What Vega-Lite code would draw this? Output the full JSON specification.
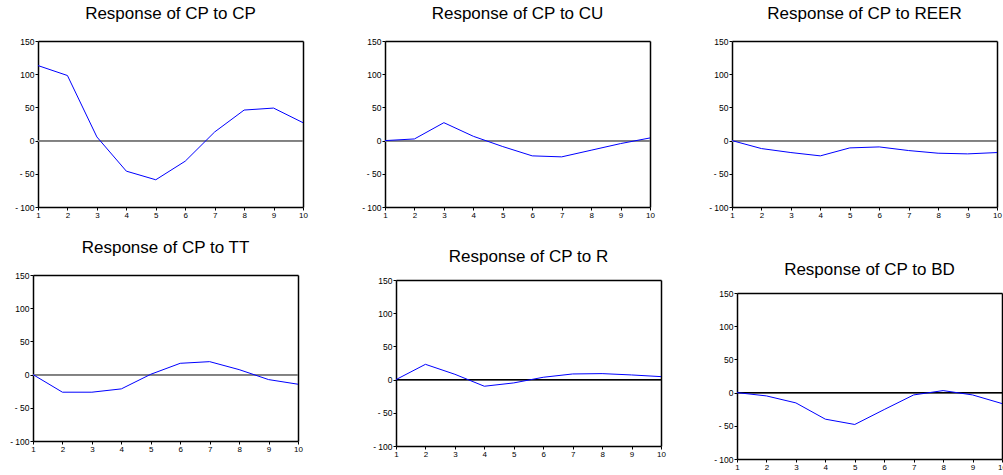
{
  "$schema": "https://vega.github.io/schema/vega-lite/v6.json",
  "background": "white",
  "padding": {"left": 9, "top": 5, "right": 0, "bottom": 0},
  "bounds": "flush",
  "columns": 3,
  "spacing": {"row": 50, "column": 69},
  "datasets": {
    "irf": [
      {"shock": "CP", "step": 1, "value": 113}, {"shock": "CP", "step": 2, "value": 98}, {"shock": "CP", "step": 3, "value": 5.5}, {"shock": "CP", "step": 4, "value": -46}, {"shock": "CP", "step": 5, "value": -59}, {"shock": "CP", "step": 6, "value": -31}, {"shock": "CP", "step": 7, "value": 13}, {"shock": "CP", "step": 8, "value": 46}, {"shock": "CP", "step": 9, "value": 49}, {"shock": "CP", "step": 10, "value": 27},
      {"shock": "CU", "step": 1, "value": 0}, {"shock": "CU", "step": 2, "value": 2.5}, {"shock": "CU", "step": 3, "value": 27}, {"shock": "CU", "step": 4, "value": 6.5}, {"shock": "CU", "step": 5, "value": -9}, {"shock": "CU", "step": 6, "value": -23}, {"shock": "CU", "step": 7, "value": -24.5}, {"shock": "CU", "step": 8, "value": -14.5}, {"shock": "CU", "step": 9, "value": -4.5}, {"shock": "CU", "step": 10, "value": 4},
      {"shock": "REER", "step": 1, "value": 0}, {"shock": "REER", "step": 2, "value": -12}, {"shock": "REER", "step": 3, "value": -18}, {"shock": "REER", "step": 4, "value": -23}, {"shock": "REER", "step": 5, "value": -11}, {"shock": "REER", "step": 6, "value": -9.5}, {"shock": "REER", "step": 7, "value": -15}, {"shock": "REER", "step": 8, "value": -19}, {"shock": "REER", "step": 9, "value": -20}, {"shock": "REER", "step": 10, "value": -18},
      {"shock": "TT", "step": 1, "value": 0}, {"shock": "TT", "step": 2, "value": -26.5}, {"shock": "TT", "step": 3, "value": -26.5}, {"shock": "TT", "step": 4, "value": -21.5}, {"shock": "TT", "step": 5, "value": 0.5}, {"shock": "TT", "step": 6, "value": 17}, {"shock": "TT", "step": 7, "value": 19.5}, {"shock": "TT", "step": 8, "value": 7.5}, {"shock": "TT", "step": 9, "value": -7.5}, {"shock": "TT", "step": 10, "value": -14.5},
      {"shock": "R", "step": 1, "value": 0}, {"shock": "R", "step": 2, "value": 23}, {"shock": "R", "step": 3, "value": 8}, {"shock": "R", "step": 4, "value": -10}, {"shock": "R", "step": 5, "value": -5}, {"shock": "R", "step": 6, "value": 3.5}, {"shock": "R", "step": 7, "value": 8.5}, {"shock": "R", "step": 8, "value": 9}, {"shock": "R", "step": 9, "value": 7}, {"shock": "R", "step": 10, "value": 4.5},
      {"shock": "BD", "step": 1, "value": 0}, {"shock": "BD", "step": 2, "value": -5}, {"shock": "BD", "step": 3, "value": -15.5}, {"shock": "BD", "step": 4, "value": -40}, {"shock": "BD", "step": 5, "value": -48}, {"shock": "BD", "step": 6, "value": -25.5}, {"shock": "BD", "step": 7, "value": -3.5}, {"shock": "BD", "step": 8, "value": 3}, {"shock": "BD", "step": 9, "value": -3.5}, {"shock": "BD", "step": 10, "value": -16.5}
    ]
  },
  "concat": [
    {
      "width": 280, "height": 184,
      "data": {"name": "irf"},
      "transform": [{"filter": "datum.shock === 'CP'"}],
      "title": {"text": "Response of CP to CP", "dx": -2.5, "dy": 0},
      "layer": [
        {"mark": {"type": "rule", "color": "#808080", "strokeWidth": 1.3},
         "encoding": {
           "x": {"datum": 1, "type": "quantitative", "scale": {"domain": [1, 10], "range": [5, 270], "nice": false, "zero": false}, "axis": {"orient": "top", "offset": 0, "labels": false, "ticks": false, "title": null, "grid": false}},
           "x2": {"datum": 10},
           "y": {"datum": 0, "type": "quantitative", "scale": {"domain": [-100, 150], "range": [166, 0], "nice": false, "zero": false}, "axis": {"orient": "right", "offset": -10, "labels": false, "ticks": false, "title": null, "grid": false}}
         }},
        {"mark": {"type": "line", "color": "#0000ff", "strokeWidth": 1},
         "encoding": {
           "x": {"field": "step", "type": "quantitative", "scale": {"domain": [1, 10], "range": [5, 270], "nice": false, "zero": false}, "axis": {"orient": "bottom", "offset": -18, "values": [1,2,3,4,5,6,7,8,9,10], "format": "d", "title": null, "grid": false, "tickSize": 3, "labelPadding": 1, "labelFontSize": 8, "labelFlush": false, "labelOverlap": false}},
           "y": {"field": "value", "type": "quantitative", "scale": {"domain": [-100, 150], "range": [166, 0], "nice": false, "zero": false}, "axis": {"orient": "left", "offset": -5, "values": [-100,-50,0,50,100,150], "labelExpr": "datum.value < 0 ? '- ' + (-datum.value) : datum.label", "title": null, "grid": false, "tickSize": 3, "labelPadding": 1, "labelFontSize": 8.5, "labelFlush": false, "labelOverlap": false}}
         }}
      ],
      "resolve": {"axis": {"x": "independent", "y": "independent"}}
    },
    {
      "width": 280, "height": 184,
      "data": {"name": "irf"},
      "transform": [{"filter": "datum.shock === 'CU'"}],
      "title": {"text": "Response of CP to CU", "dx": -4.5, "dy": 0},
      "layer": [
        {"mark": {"type": "rule", "color": "#808080", "strokeWidth": 1.3},
         "encoding": {
           "x": {"datum": 1, "type": "quantitative", "scale": {"domain": [1, 10], "range": [3, 268], "nice": false, "zero": false}, "axis": {"orient": "top", "offset": 0, "labels": false, "ticks": false, "title": null, "grid": false}},
           "x2": {"datum": 10},
           "y": {"datum": 0, "type": "quantitative", "scale": {"domain": [-100, 150], "range": [166, 0], "nice": false, "zero": false}, "axis": {"orient": "right", "offset": -12, "labels": false, "ticks": false, "title": null, "grid": false}}
         }},
        {"mark": {"type": "line", "color": "#0000ff", "strokeWidth": 1},
         "encoding": {
           "x": {"field": "step", "type": "quantitative", "scale": {"domain": [1, 10], "range": [3, 268], "nice": false, "zero": false}, "axis": {"orient": "bottom", "offset": -18, "values": [1,2,3,4,5,6,7,8,9,10], "format": "d", "title": null, "grid": false, "tickSize": 3, "labelPadding": 1, "labelFontSize": 8, "labelFlush": false, "labelOverlap": false}},
           "y": {"field": "value", "type": "quantitative", "scale": {"domain": [-100, 150], "range": [166, 0], "nice": false, "zero": false}, "axis": {"orient": "left", "offset": -3, "values": [-100,-50,0,50,100,150], "labelExpr": "datum.value < 0 ? '- ' + (-datum.value) : datum.label", "title": null, "grid": false, "tickSize": 3, "labelPadding": 1, "labelFontSize": 8.5, "labelFlush": false, "labelOverlap": false}}
         }}
      ],
      "resolve": {"axis": {"x": "independent", "y": "independent"}}
    },
    {
      "width": 280, "height": 184,
      "data": {"name": "irf"},
      "transform": [{"filter": "datum.shock === 'REER'"}],
      "title": {"text": "Response of CP to REER", "dx": -6.5, "dy": 0},
      "layer": [
        {"mark": {"type": "rule", "color": "#808080", "strokeWidth": 1.3},
         "encoding": {
           "x": {"datum": 1, "type": "quantitative", "scale": {"domain": [1, 10], "range": [1, 266], "nice": false, "zero": false}, "axis": {"orient": "top", "offset": 0, "labels": false, "ticks": false, "title": null, "grid": false}},
           "x2": {"datum": 10},
           "y": {"datum": 0, "type": "quantitative", "scale": {"domain": [-100, 150], "range": [166, 0], "nice": false, "zero": false}, "axis": {"orient": "right", "offset": -14, "labels": false, "ticks": false, "title": null, "grid": false}}
         }},
        {"mark": {"type": "line", "color": "#0000ff", "strokeWidth": 1},
         "encoding": {
           "x": {"field": "step", "type": "quantitative", "scale": {"domain": [1, 10], "range": [1, 266], "nice": false, "zero": false}, "axis": {"orient": "bottom", "offset": -18, "values": [1,2,3,4,5,6,7,8,9,10], "format": "d", "title": null, "grid": false, "tickSize": 3, "labelPadding": 1, "labelFontSize": 8, "labelFlush": false, "labelOverlap": false}},
           "y": {"field": "value", "type": "quantitative", "scale": {"domain": [-100, 150], "range": [166, 0], "nice": false, "zero": false}, "axis": {"orient": "left", "offset": -1, "values": [-100,-50,0,50,100,150], "labelExpr": "datum.value < 0 ? '- ' + (-datum.value) : datum.label", "title": null, "grid": false, "tickSize": 3, "labelPadding": 1, "labelFontSize": 8.5, "labelFlush": false, "labelOverlap": false}}
         }}
      ],
      "resolve": {"axis": {"x": "independent", "y": "independent"}}
    },
    {
      "width": 280, "height": 184,
      "data": {"name": "irf"},
      "transform": [{"filter": "datum.shock === 'TT'"}],
      "title": {"text": "Response of CP to TT", "dx": -7.5, "dy": 0},
      "layer": [
        {"mark": {"type": "rule", "color": "#808080", "strokeWidth": 1.3},
         "encoding": {
           "x": {"datum": 1, "type": "quantitative", "scale": {"domain": [1, 10], "range": [0, 265], "nice": false, "zero": false}, "axis": {"orient": "top", "offset": 0, "labels": false, "ticks": false, "title": null, "grid": false}},
           "x2": {"datum": 10},
           "y": {"datum": 0, "type": "quantitative", "scale": {"domain": [-100, 150], "range": [166, 0], "nice": false, "zero": false}, "axis": {"orient": "right", "offset": -15, "labels": false, "ticks": false, "title": null, "grid": false}}
         }},
        {"mark": {"type": "line", "color": "#0000ff", "strokeWidth": 1},
         "encoding": {
           "x": {"field": "step", "type": "quantitative", "scale": {"domain": [1, 10], "range": [0, 265], "nice": false, "zero": false}, "axis": {"orient": "bottom", "offset": -18, "values": [1,2,3,4,5,6,7,8,9,10], "format": "d", "title": null, "grid": false, "tickSize": 3, "labelPadding": 1, "labelFontSize": 8, "labelFlush": false, "labelOverlap": false}},
           "y": {"field": "value", "type": "quantitative", "scale": {"domain": [-100, 150], "range": [166, 0], "nice": false, "zero": false}, "axis": {"orient": "left", "offset": 0, "values": [-100,-50,0,50,100,150], "labelExpr": "datum.value < 0 ? '- ' + (-datum.value) : datum.label", "title": null, "grid": false, "tickSize": 3, "labelPadding": 1, "labelFontSize": 8.5, "labelFlush": false, "labelOverlap": false}}
         }}
      ],
      "resolve": {"axis": {"x": "independent", "y": "independent"}}
    },
    {
      "width": 280, "height": 184,
      "data": {"name": "irf"},
      "transform": [{"filter": "datum.shock === 'R'"}],
      "title": {"text": "Response of CP to R", "dx": 6.5, "dy": 5},
      "layer": [
        {"mark": {"type": "rule", "color": "#000000", "strokeWidth": 1},
         "encoding": {
           "x": {"datum": 1, "type": "quantitative", "scale": {"domain": [1, 10], "range": [14, 279], "nice": false, "zero": false}, "axis": {"orient": "top", "offset": -5, "labels": false, "ticks": false, "title": null, "grid": false}},
           "x2": {"datum": 10},
           "y": {"datum": 0, "type": "quantitative", "scale": {"domain": [-100, 150], "range": [171, 5], "nice": false, "zero": false}, "axis": {"orient": "right", "offset": -1, "labels": false, "ticks": false, "title": null, "grid": false}}
         }},
        {"mark": {"type": "line", "color": "#0000ff", "strokeWidth": 1},
         "encoding": {
           "x": {"field": "step", "type": "quantitative", "scale": {"domain": [1, 10], "range": [14, 279], "nice": false, "zero": false}, "axis": {"orient": "bottom", "offset": -13, "values": [1,2,3,4,5,6,7,8,9,10], "format": "d", "title": null, "grid": false, "tickSize": 3, "labelPadding": 1, "labelFontSize": 8, "labelFlush": false, "labelOverlap": false}},
           "y": {"field": "value", "type": "quantitative", "scale": {"domain": [-100, 150], "range": [171, 5], "nice": false, "zero": false}, "axis": {"orient": "left", "offset": -14, "values": [-100,-50,0,50,100,150], "labelExpr": "datum.value < 0 ? '- ' + (-datum.value) : datum.label", "title": null, "grid": false, "tickSize": 3, "labelPadding": 1, "labelFontSize": 8.5, "labelFlush": false, "labelOverlap": false}}
         }}
      ],
      "resolve": {"axis": {"x": "independent", "y": "independent"}}
    },
    {
      "width": 280, "height": 184,
      "data": {"name": "irf"},
      "transform": [{"filter": "datum.shock === 'BD'"}],
      "title": {"text": "Response of CP to BD", "dx": -1.5, "dy": 18},
      "layer": [
        {"mark": {"type": "rule", "color": "#000000", "strokeWidth": 1},
         "encoding": {
           "x": {"datum": 1, "type": "quantitative", "scale": {"domain": [1, 10], "range": [6, 271], "nice": false, "zero": false}, "axis": {"orient": "top", "offset": -18, "labels": false, "ticks": false, "title": null, "grid": false}},
           "x2": {"datum": 10},
           "y": {"datum": 0, "type": "quantitative", "scale": {"domain": [-100, 150], "range": [184, 18], "nice": false, "zero": false}, "axis": {"orient": "right", "offset": -9, "labels": false, "ticks": false, "title": null, "grid": false}}
         }},
        {"mark": {"type": "line", "color": "#0000ff", "strokeWidth": 1},
         "encoding": {
           "x": {"field": "step", "type": "quantitative", "scale": {"domain": [1, 10], "range": [6, 271], "nice": false, "zero": false}, "axis": {"orient": "bottom", "offset": 0, "values": [1,2,3,4,5,6,7,8,9,10], "format": "d", "title": null, "grid": false, "tickSize": 3, "labelPadding": 1, "labelFontSize": 8, "labelFlush": false, "labelOverlap": false}},
           "y": {"field": "value", "type": "quantitative", "scale": {"domain": [-100, 150], "range": [184, 18], "nice": false, "zero": false}, "axis": {"orient": "left", "offset": -6, "values": [-100,-50,0,50,100,150], "labelExpr": "datum.value < 0 ? '- ' + (-datum.value) : datum.label", "title": null, "grid": false, "tickSize": 3, "labelPadding": 1, "labelFontSize": 8.5, "labelFlush": false, "labelOverlap": false}}
         }}
      ],
      "resolve": {"axis": {"x": "independent", "y": "independent"}}
    }
  ],
  "config": {
    "view": {"stroke": null},
    "font": "Liberation Sans",
    "axis": {"domainColor": "#000000", "domainWidth": 1.5, "tickColor": "#000000", "tickWidth": 1, "labelColor": "#000000", "labelFont": "Liberation Sans"},
    "title": {"font": "Liberation Sans", "fontSize": 17, "fontWeight": "normal", "color": "#000000", "anchor": "middle", "frame": "group", "offset": 14, "baseline": "alphabetic"}
  }
}
